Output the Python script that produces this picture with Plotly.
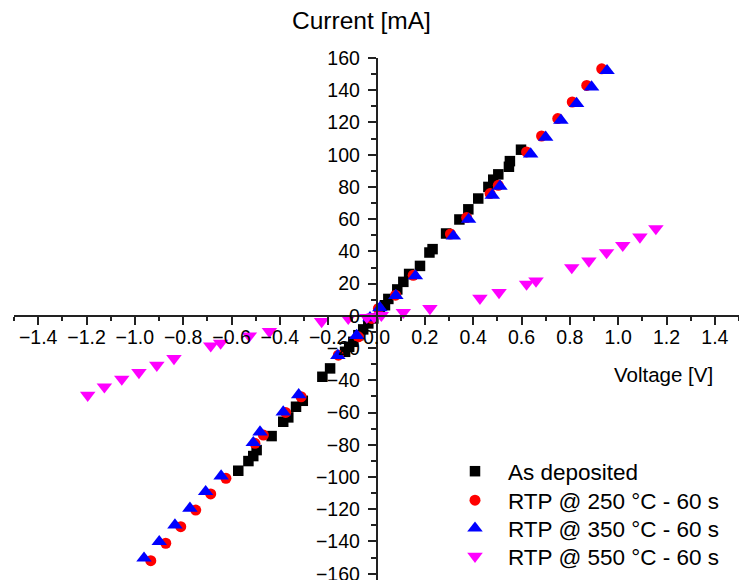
import plotly.graph_objects as go

# ---- data (Voltage [V], Current [mA]) ----
as_dep_v = [-0.572, -0.530, -0.510, -0.496, -0.434, -0.386, -0.365, -0.333, -0.305,
            -0.224, -0.192, -0.130, -0.113, -0.096, -0.075, -0.055, -0.034, -0.013,
            0.014, 0.035, 0.049, 0.086, 0.111, 0.135, 0.180, 0.219, 0.232, 0.288,
            0.343, 0.380, 0.421, 0.463, 0.483, 0.504, 0.548, 0.552, 0.598]
as_dep_i = [-96.1, -90.1, -87.0, -83.3, -74.6, -65.7, -63.0, -56.4, -52.7,
            -37.8, -32.6, -22.3, -19.2, -16.1, -12.0, -8.4, -4.7, -1.6,
            3.5, 6.6, 10.5, 16.4, 21.1, 26.0, 31.0, 39.3, 41.4, 51.1,
            59.8, 66.1, 72.8, 80.0, 84.5, 87.8, 92.5, 96.0, 103.1]

rtp250_v = [-0.934, -0.872, -0.810, -0.748, -0.686, -0.623, -0.503, -0.468, -0.376,
            -0.312, -0.158, -0.075, -0.020, 0.008, 0.079, 0.152, 0.306, 0.373,
            0.470, 0.504, 0.621, 0.683, 0.750, 0.810, 0.870, 0.932]
rtp250_i = [-151.9, -141.1, -130.8, -120.5, -110.5, -100.8, -79.1, -74.0, -59.9,
            -50.2, -24.4, -13.0, -1.6, 4.6, 12.8, 25.2, 50.8, 61.0,
            75.9, 81.0, 101.7, 111.6, 122.4, 132.7, 143.0, 153.3]

rtp350_v = [-0.962, -0.899, -0.834, -0.772, -0.707, -0.643, -0.510, -0.482, -0.386,
            -0.322, -0.160, -0.082, -0.027, 0.014, 0.080, 0.161, 0.318, 0.381,
            0.479, 0.511, 0.638, 0.700, 0.763, 0.828, 0.890, 0.954]
rtp350_i = [-150.4, -140.1, -129.8, -119.4, -109.1, -99.4, -78.7, -72.1, -59.7,
            -49.0, -24.6, -12.2, -1.2, 5.0, 12.6, 24.8, 49.4, 59.8,
            74.8, 80.4, 100.4, 110.8, 121.3, 131.7, 142.0, 152.1]

rtp550_v = [-1.195, -1.126, -1.054, -0.983, -0.909, -0.838, -0.686, -0.645, -0.526,
            -0.443, -0.227, -0.117, -0.040, -0.010, 0.020, 0.111, 0.221, 0.428,
            0.507, 0.621, 0.660, 0.808, 0.879, 0.952, 1.019, 1.090, 1.156]
rtp550_i = [-49.2, -44.0, -39.2, -35.1, -30.6, -26.4, -18.6, -16.9, -12.4,
            -9.7, -3.5, -1.5, -0.9, -0.5, 0.3, 2.2, 4.6, 11.0,
            14.5, 19.7, 21.7, 30.0, 34.1, 39.3, 43.8, 49.0, 54.2]

series_names = ["As deposited", "RTP @ 250 °C - 60 s", "RTP @ 350 °C - 60 s", "RTP @ 550 °C - 60 s"]
x_title = "Voltage [V]"
y_title = "Current [mA]"

FONT = "Liberation Sans, Arial, sans-serif"

fig = go.Figure()
fig.add_trace(go.Scatter(x=as_dep_v, y=as_dep_i, mode="markers", name=series_names[0], legend="legend",
                         marker=dict(symbol="square", size=10.5, color="black", line=dict(width=0))))
fig.add_trace(go.Scatter(x=rtp250_v, y=rtp250_i, mode="markers", name=series_names[1], legend="legend2",
                         marker=dict(symbol="circle", size=11, color="red", line=dict(width=0))))
fig.add_trace(go.Scatter(x=rtp350_v, y=rtp350_i, mode="markers", name=series_names[2], legend="legend3",
                         marker=dict(symbol="triangle-up", size=13.5, color="blue", line=dict(width=0))))
fig.add_trace(go.Scatter(x=rtp550_v, y=rtp550_i, mode="markers", name=series_names[3], legend="legend4",
                         marker=dict(symbol="triangle-down", size=13.5, color="magenta", line=dict(width=0))))

y_lo, y_hi = -163.9, 160
axis_common = dict(showline=True, linecolor="#222", linewidth=1.5, showgrid=False, zeroline=False,
                   ticks="outside", ticklen=8, tickwidth=1.5, tickcolor="#222", automargin=False,
                   ticklabeloverflow="allow",
                   tickfont=dict(family=FONT, size=19.5, color="black"))

leg_common = dict(x=(442 - 14) / 725, xanchor="left", yanchor="top", bgcolor="rgba(0,0,0,0)", itemwidth=56,
                  font=dict(family=FONT, size=22.5, color="black"))

fig.update_layout(
    width=739, height=580,
    margin=dict(l=14, r=0, t=57.6, b=0, autoexpand=False),
    paper_bgcolor="white", plot_bgcolor="white",
    font=dict(family=FONT, color="black"),
    xaxis=dict(range=[-1.5, 1.5], tick0=0, dtick=0.2, tickformat=".1f",
               anchor="free", position=(0 - y_lo) / (y_hi - y_lo), ticklabelstandoff=-4,
               minor=dict(dtick=0.1, ticks="outside", ticklen=4.5, tickwidth=1.5, tickcolor="#222"),
               **axis_common),
    yaxis=dict(range=[y_lo, y_hi], tick0=0, dtick=20,
               anchor="free", position=0.5, ticklabelstandoff=4,
               minor=dict(dtick=10, ticks="outside", ticklen=4.5, tickwidth=1.5, tickcolor="#222"),
               **axis_common),
    legend=dict(y=0.2489, **leg_common),
    legend2=dict(y=0.1934, **leg_common),
    legend3=dict(y=0.1398, **leg_common),
    legend4=dict(y=0.0862, **leg_common),
    showlegend=True,
    annotations=[
        dict(text=y_title, x=(361.5 - 14) / 725, y=1 + (57.6 - 20) / 522.4, xref="paper", yref="paper",
             xanchor="center", yanchor="middle", showarrow=False,
             font=dict(family=FONT, size=24.5, color="black")),
        dict(text=x_title, x=(663 - 14) / 725, y=1 - (374 - 57.6) / 522.4, xref="paper", yref="paper",
             xanchor="center", yanchor="middle", showarrow=False,
             font=dict(family=FONT, size=20.5, color="black")),
    ],
)

fig.write_html("out.html", config={"displayModeBar": False},
               post_script="document.body.style.margin='0';document.body.style.overflow='hidden';")
